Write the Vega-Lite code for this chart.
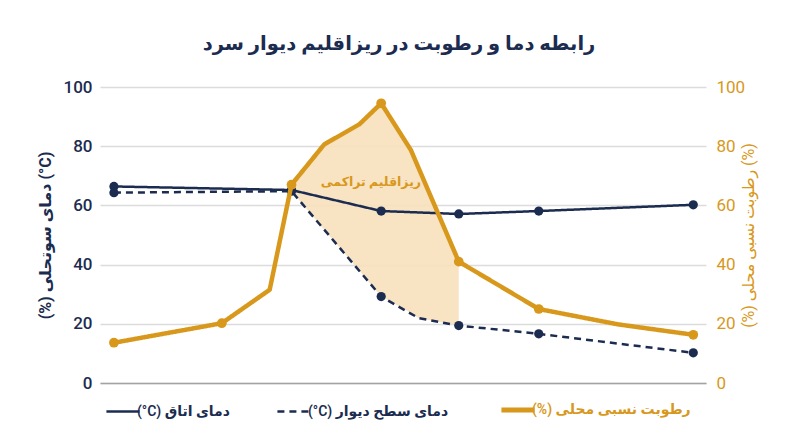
{
  "$schema": "https://vega.github.io/schema/vega-lite/v6.json",
  "width": 606,
  "height": 296,
  "autosize": {"type": "none"},
  "padding": {"left": 100, "top": 87, "right": 94, "bottom": 64},
  "background": "white",
  "title": {
    "text": "رابطه دما و رطوبت در ریزاقلیم دیوار سرد",
    "fontSize": 19.5,
    "fontWeight": "bold",
    "color": "#1b2c50",
    "anchor": "middle",
    "offset": 24,
    "dx": -4
  },
  "datasets": {
    "lines": [
      {"x": 2.3, "series": "(°C) دمای اتاق", "v": 66.4},
      {"x": 31.6, "series": "(°C) دمای اتاق", "v": 65.2},
      {"x": 46.4, "series": "(°C) دمای اتاق", "v": 58.1},
      {"x": 59.2, "series": "(°C) دمای اتاق", "v": 57.1},
      {"x": 72.4, "series": "(°C) دمای اتاق", "v": 58.1},
      {"x": 97.9, "series": "(°C) دمای اتاق", "v": 60.2},
      {"x": 2.3, "series": "(°C) دمای سطح دیوار", "v": 64.3},
      {"x": 31.6, "series": "(°C) دمای سطح دیوار", "v": 64.8},
      {"x": 46.4, "series": "(°C) دمای سطح دیوار", "v": 29.2},
      {"x": 52.6, "series": "(°C) دمای سطح دیوار", "v": 21.9},
      {"x": 59.2, "series": "(°C) دمای سطح دیوار", "v": 19.4},
      {"x": 72.4, "series": "(°C) دمای سطح دیوار", "v": 16.6},
      {"x": 97.9, "series": "(°C) دمای سطح دیوار", "v": 10.2}
    ],
    "humidity": [
      {"x": 2.3, "series": "(%) رطوبت نسبی محلی", "v": 13.6},
      {"x": 20.1, "series": "(%) رطوبت نسبی محلی", "v": 20.2},
      {"x": 28.0, "series": "(%) رطوبت نسبی محلی", "v": 31.5},
      {"x": 31.6, "series": "(%) رطوبت نسبی محلی", "v": 67.0},
      {"x": 37.0, "series": "(%) رطوبت نسبی محلی", "v": 80.6},
      {"x": 42.8, "series": "(%) رطوبت نسبی محلی", "v": 87.4},
      {"x": 46.4, "series": "(%) رطوبت نسبی محلی", "v": 94.5},
      {"x": 51.3, "series": "(%) رطوبت نسبی محلی", "v": 78.7},
      {"x": 59.2, "series": "(%) رطوبت نسبی محلی", "v": 41.0},
      {"x": 72.4, "series": "(%) رطوبت نسبی محلی", "v": 25.0},
      {"x": 85.5, "series": "(%) رطوبت نسبی محلی", "v": 19.8},
      {"x": 97.9, "series": "(%) رطوبت نسبی محلی", "v": 16.3}
    ],
    "band": [
      {"x": 31.6, "top": 67.0, "bottom": 64.8},
      {"x": 37.0, "top": 80.6, "bottom": 51.8},
      {"x": 42.8, "top": 87.4, "bottom": 37.9},
      {"x": 46.4, "top": 94.5, "bottom": 29.2},
      {"x": 51.3, "top": 78.7, "bottom": 23.7},
      {"x": 52.6, "top": 72.2, "bottom": 21.9},
      {"x": 59.2, "top": 41.0, "bottom": 19.4}
    ],
    "note": [
      {"x": 44.7, "y": 67.9, "label": "ریزاقلیم تراکمی"}
    ]
  },
  "layer": [
    {
      "layer": [
        {
          "data": {"name": "band"},
          "mark": {"type": "area", "color": "#f7e0bb", "opacity": 0.9},
          "encoding": {
            "x": {"field": "x", "type": "quantitative", "scale": {"domain": [0, 100], "nice": false}},
            "y": {"field": "top", "type": "quantitative", "scale": {"domain": [0, 100]}},
            "y2": {"field": "bottom"}
          }
        },
        {
          "data": {"name": "lines"},
          "mark": {"type": "line", "strokeWidth": 2.5},
          "encoding": {
            "x": {"field": "x", "type": "quantitative"},
            "y": {"field": "v", "type": "quantitative"},
            "color": {
              "field": "series",
              "type": "nominal",
              "scale": {
                "domain": ["(°C) دمای اتاق", "(°C) دمای سطح دیوار", "(%) رطوبت نسبی محلی"],
                "range": ["#1b2c50", "#1b2c50", "#d8981c"]
              }
            },
            "strokeDash": {
              "field": "series",
              "type": "nominal",
              "scale": {
                "domain": ["(°C) دمای اتاق", "(°C) دمای سطح دیوار", "(%) رطوبت نسبی محلی"],
                "range": [[1, 0], [7, 5], [1, 0]]
              }
            }
          }
        },
        {
          "data": {"name": "lines"},
          "transform": [{"filter": {"field": "x", "oneOf": [2.3, 31.6, 46.4, 59.2, 72.4, 97.9]}}],
          "mark": {"type": "point", "filled": true, "opacity": 1, "size": 85, "color": "#1b2c50"},
          "encoding": {
            "x": {"field": "x", "type": "quantitative"},
            "y": {"field": "v", "type": "quantitative"}
          }
        },
        {
          "data": {"name": "note"},
          "mark": {"type": "text", "color": "#d8981c", "fontSize": 12.5, "fontWeight": "bold", "align": "center", "baseline": "middle"},
          "encoding": {
            "x": {"field": "x", "type": "quantitative"},
            "y": {"field": "y", "type": "quantitative"},
            "text": {"field": "label"}
          }
        }
      ],
      "encoding": {
        "x": {
          "axis": {"labels": false, "ticks": false, "grid": false, "domain": true, "domainColor": "#a3a3a3", "domainWidth": 1.5, "title": null}
        },
        "y": {
          "axis": {
            "title": "(%) دمای سوتحلی (°C)",
            "orient": "left",
            "values": [0, 20, 40, 60, 80, 100],
            "domain": false,
            "ticks": false,
            "grid": true,
            "gridColor": "#dcdcdc",
            "gridWidth": 1.5,
            "gridOpacity": 1,
            "labelColor": "#1b2c50",
            "labelFontSize": 17,
            "labelFontWeight": 500,
            "labelPadding": 8,
            "titleColor": "#1b2c50",
            "titleFontSize": 16,
            "titleFontWeight": "bold",
            "titlePadding": 10
          }
        }
      }
    },
    {
      "layer": [
        {
          "data": {"name": "humidity"},
          "mark": {"type": "line", "strokeWidth": 4.5, "strokeJoin": "round"},
          "encoding": {
            "x": {"field": "x", "type": "quantitative"},
            "y": {"field": "v", "type": "quantitative", "scale": {"domain": [0, 100]}},
            "color": {
              "field": "series",
              "type": "nominal",
              "scale": {
                "domain": ["(°C) دمای اتاق", "(°C) دمای سطح دیوار", "(%) رطوبت نسبی محلی"],
                "range": ["#1b2c50", "#1b2c50", "#d8981c"]
              },
              "legend": {
                "title": null,
                "orient": "bottom",
                "direction": "horizontal",
                "symbolType": "stroke",
                "symbolSize": 1100,
                "labelFontSize": 14,
                "labelFontWeight": 600,
                "labelLimit": 400,
                "labelOffset": 7,
                "columnPadding": 42,
                "offset": 20,
                "encode": {
                  "labels": {"update": {"fill": {"signal": "datum.value === '(%) رطوبت نسبی محلی' ? '#d8981c' : '#1b2c50'"}}},
                  "symbols": {"update": {"strokeWidth": {"signal": "datum.value === '(%) رطوبت نسبی محلی' ? 5 : 2.5"}}}
                }
              }
            },
            "strokeDash": {
              "field": "series",
              "type": "nominal",
              "scale": {
                "domain": ["(°C) دمای اتاق", "(°C) دمای سطح دیوار", "(%) رطوبت نسبی محلی"],
                "range": [[1, 0], [7, 5], [1, 0]]
              }
            }
          }
        },
        {
          "data": {"name": "humidity"},
          "transform": [{"filter": {"field": "x", "oneOf": [2.3, 20.1, 31.6, 46.4, 59.2, 72.4, 97.9]}}],
          "mark": {"type": "point", "filled": true, "opacity": 1, "size": 95, "color": "#d8981c"},
          "encoding": {
            "x": {"field": "x", "type": "quantitative"},
            "y": {"field": "v", "type": "quantitative"}
          }
        }
      ],
      "encoding": {
        "x": {
          "axis": {"labels": false, "ticks": false, "grid": false, "domain": true, "domainColor": "#a3a3a3", "domainWidth": 1.5, "title": null}
        },
        "y": {
          "axis": {
            "title": "(%) رطوبت نسبی محلی (%)",
            "orient": "right",
            "values": [0, 20, 40, 60, 80, 100],
            "domain": false,
            "ticks": false,
            "grid": false,
            "labelColor": "#d8981c",
            "labelFontSize": 17,
            "labelPadding": 10,
            "titleColor": "#d8981c",
            "titleFontSize": 16,
            "titleFontWeight": "normal",
            "titleAngle": -90,
            "titlePadding": 12
          }
        }
      }
    }
  ],
  "resolve": {"scale": {"y": "independent"}},
  "config": {
    "font": "Roboto, DejaVu Sans",
    "view": {"stroke": null},
    "legend": {"layout": {"bottom": {"anchor": "middle"}}}
  }
}
